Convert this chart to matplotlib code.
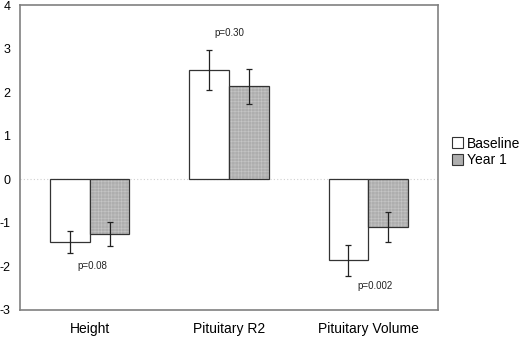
import matplotlib
matplotlib.use("Agg")
import matplotlib.pyplot as plt
from matplotlib.patches import Patch
import numpy as np

plt.rcParams['font.family'] = ['Liberation Sans', 'DejaVu Sans']
plt.rcParams['hatch.linewidth'] = 0.4
plt.rcParams['axes.unicode_minus'] = False

categories = ["Height", "Pituitary R2", "Pituitary Volume"]
baseline = [-1.44, 2.51, -1.86]
baseline_err = [0.26, 0.46, 0.35]
year1 = [-1.25, 2.13, -1.09]
year1_err = [0.27, 0.40, 0.35]
pvalues = ["p=0.08", "p=0.30", "p=0.002"]
pvalue_y = [-2.0, 3.35, -2.44]
pvalue_dx = [0.02, 0.0, 0.05]

fig = plt.figure(figsize=(5.2, 3.38), dpi=100)
ax = fig.add_axes([20/520, 28/338, 418/520, 305/338])

x = np.arange(len(categories))
w = 0.285
year_color = '#aeaeae'
hatch_color = '#c6c6c6'
ax.bar(x - w/2, baseline, w, color='white', edgecolor='#333333', linewidth=0.9, zorder=2)
ax.bar(x + w/2, year1, w, color=year_color, edgecolor=hatch_color, linewidth=0,
       hatch='+++++', zorder=2)
ax.bar(x + w/2, year1, w, fill=False, edgecolor='#333333', linewidth=0.9, zorder=2.5)
ax.errorbar(x - w/2, baseline, yerr=baseline_err, fmt='none', ecolor='#222222',
            elinewidth=0.9, capsize=2.5, capthick=0.9, zorder=3)
ax.errorbar(x + w/2, year1, yerr=year1_err, fmt='none', ecolor='#222222',
            elinewidth=0.9, capsize=2.5, capthick=0.9, zorder=3)

ax.axhline(0, color='#d0d0d0', linewidth=0.8, linestyle=(0, (1, 2)), zorder=1)

for i, (t, yy) in enumerate(zip(pvalues, pvalue_y)):
    ax.text(i + pvalue_dx[i], yy, t, ha='center', va='center', fontsize=7, color='#222222')

ax.set_xlim(-0.5, 2.5)
ax.set_ylim(-3, 4)
ax.set_yticks(range(-3, 5))
ax.set_xticks(x)
ax.set_xticklabels(categories, fontsize=10)
ax.tick_params(axis='both', length=0)
ax.tick_params(axis='y', pad=7, labelsize=9)
ax.tick_params(axis='x', pad=9)
for s in ax.spines.values():
    s.set_color('#808080')
    s.set_linewidth(1.2)

legend_hatch = Patch(facecolor=year_color, edgecolor='#333333', linewidth=0.8, label='Year 1')
handles = [Patch(facecolor='white', edgecolor='#333333', linewidth=0.8, label='Baseline'),
           legend_hatch]
fig.legend(handles=handles, loc='center left', bbox_to_anchor=(452/520, 1 - 152/338),
           frameon=False, fontsize=10, handlelength=0.8, handleheight=0.8,
           handletextpad=0.3, labelspacing=0.2, borderpad=0, borderaxespad=0)

fig.savefig("out.png", dpi=100)
